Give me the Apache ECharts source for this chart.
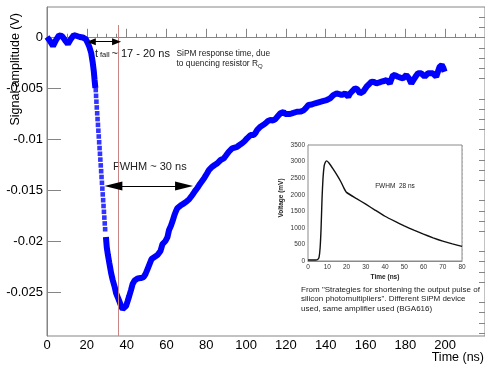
<!DOCTYPE html>
<html>
<head>
<meta charset="utf-8">
<script src="https://cdn.jsdelivr.net/npm/echarts@6/dist/echarts.min.js"></script>
<style>
  html, body { margin: 0; padding: 0; background: #fff; }
  #chart { width: 485px; height: 365px; }
</style>
</head>
<body>
<div id="chart"></div>
<script>
// scope trace of the SiPM pulse: time (ns) / amplitude (V), null = gap where the squares stand apart
const timeNs = [
  0, 1.5, 3, 4.5, 6, 7.5, 9, 10.5, 12, 13.5, 15, 16.5, 18, 19.5, 20.5, 21.3, 22.2, 23, 23.5, 23.9, 24.3,
  27,
  29.6, 30, 30.6, 31.3, 32.2, 33, 34, 34.7, 35.5, 36.3, 37.2, 38, 38.8, 39.7, 40.5, 41.3, 42.2, 43, 44,
  45.5, 47, 48.5, 49.5, 50.5, 51.5, 52.5, 54, 55.5, 57, 58, 59.5, 60.5, 61.3, 62.2, 63, 64, 64.7, 65.5,
  66.3, 67.5, 68.8, 70, 71.3, 72.2, 73, 74, 74.7, 75.5, 76.3, 77, 78, 79, 79.7, 80.5, 81.3, 82, 83, 84.2,
  85.5, 86.3, 87.2, 88, 88.8, 89.7, 90.5, 91.3, 92.2, 93, 94, 95.5, 96.7, 98, 99.3, 100.5, 101.3, 102.2,
  103, 103.8, 104.7, 105.5, 106.3, 107.2, 108.5, 109.7, 111, 112.2, 113.5, 114.7, 116, 117.2, 118, 118.8,
  119.7, 120.5, 121.7, 123, 124, 125.5, 126.3, 127.3, 128.8, 130, 130.5, 131.3, 133, 134.7, 135.5, 137.2,
  138.5, 140.5, 141.5, 142.2, 143.8, 145.5, 146.7, 148, 149.7, 150.5, 151.3, 152.2, 153, 154.7, 155.8,
  157.2, 158, 158.8, 160.5, 161.8, 163, 164.2, 165.5, 166.7, 168, 169.3, 170.5, 171.3, 172.2, 173, 173.8,
  175, 176.3, 177.5, 178.8, 179.7, 180.5, 181.7, 183, 184, 184.7, 185.5, 186.3, 188, 189, 189.7, 190.5,
  191.3, 192.5, 193.8, 194.7, 195.5, 196.3, 197.2, 198.3, 199, 199.7
]
const signalV = [
  0.00007, -0.00032, -0.00082, -0.00023, 0.00022, 0.00017, -0.00023, -0.00062, -0.00013, 0.00027, 0.00017,
  0.00007, 0.00002, -0.00013, -0.00052, -0.00091, -0.0015, -0.00249, -0.00327, -0.00416, -0.00494,
  null,
  -0.01958, -0.02056, -0.02135, -0.02213, -0.02311, -0.0238, -0.02449, -0.02508, -0.02547, -0.02587, -0.02636,
  -0.02665, -0.02665, -0.02636, -0.02587, -0.02537, -0.02478, -0.02419, -0.02385, -0.02365, -0.02361,
  -0.02351, -0.02321, -0.02272, -0.02223, -0.02174, -0.02154, -0.02135, -0.02095, -0.02027, -0.01997,
  -0.01958, -0.01889, -0.0185, -0.01806, -0.01742, -0.01707, -0.01673, -0.01658, -0.01643, -0.01627,
  -0.01609, -0.01589, -0.01575, -0.01545, -0.01516, -0.01496, -0.01476, -0.01452, -0.01432, -0.01413,
  -0.01378, -0.01354, -0.01329, -0.013, -0.01285, -0.01267, -0.0125, -0.01234, -0.01216, -0.01201,
  -0.01192, -0.01185, -0.01162, -0.01152, -0.0112, -0.01103, -0.01086, -0.01079, -0.01071, -0.01054,
  -0.01037, -0.01015, -0.00988, -0.00975, -0.00956, -0.00946, -0.00956, -0.00936, -0.00907, -0.00897,
  -0.00874, -0.00858, -0.00841, -0.00818, -0.00808, -0.00813, -0.00799, -0.00769, -0.00743, -0.00727,
  -0.0073, -0.0075, -0.0075, -0.0075, -0.00743, -0.00754, -0.00727, -0.0074, -0.00725, -0.00715, -0.00691,
  -0.00678, -0.00661, -0.00656, -0.00644, -0.00644, -0.00629, -0.00622, -0.00612, -0.00602, -0.00595,
  -0.00563, -0.00546, -0.00553, -0.00563, -0.00546, -0.00563, -0.0058, -0.00548, -0.0053, -0.00497,
  -0.00504, -0.00546, -0.00538, -0.0053, -0.00481, -0.00455, -0.00432, -0.00435, -0.00448, -0.0044,
  -0.00432, -0.00425, -0.00416, -0.0043, -0.00448, -0.00406, -0.00366, -0.00371, -0.00383, -0.00391,
  -0.00399, -0.00381, -0.00366, -0.00396, -0.00448, -0.00416, -0.00399, -0.00371, -0.0035, -0.0035,
  -0.00366, -0.00383, -0.00366, -0.0035, -0.0035, -0.0035, -0.00366, -0.00383, -0.00337, -0.00285,
  -0.00268, -0.00293, -0.00334
]

// samples on the steep leading edge (visible as single squares)
const edgeTimeNs = [
  24.5, 24.65, 24.82, 25, 25.2, 25.4, 25.6, 25.8, 26, 26.2, 26.4, 26.6, 26.8,
  27, 27.2, 27.4, 27.6, 27.8, 28, 28.2, 28.4, 28.6, 28.8, 29, 29.2
]
const edgeSignalV = [
  -0.00514, -0.00571, -0.00628, -0.00685, -0.00742, -0.00799, -0.00856, -0.00913, -0.0097, -0.01027,
  -0.01084, -0.0114, -0.01197, -0.01254, -0.01311, -0.01368, -0.01425, -0.01482, -0.01539, -0.01596,
  -0.01653, -0.0171, -0.01767, -0.01824, -0.01881
]

// inset: pulse from the paper (ns / mV)
const insetTimeNs = [0, 4, 5, 5.7, 6.3, 6.8, 7.3, 7.8, 8.4, 9, 9.7, 11, 13, 15, 17, 18.5, 20, 25, 30, 35, 40, 45, 50, 55, 60, 65, 70, 75, 80]
const insetVoltageMv = [30, 30, 45, 100, 400, 1000, 1900, 2500, 2870, 2980, 3020, 2950, 2780, 2600, 2400, 2220, 2070, 1890, 1715, 1530, 1350, 1200, 1060, 930, 810, 700, 600, 515, 440]

const yMajorTicks = [0, -0.005, -0.01, -0.015, -0.02, -0.025]
const yMinorTicks = [
  0.002, 0.001, -0.001, -0.002, -0.003, -0.004, -0.006, -0.007, -0.008, -0.009,
  -0.011, -0.012, -0.013, -0.014, -0.016, -0.017, -0.018, -0.019,
  -0.021, -0.022, -0.023, -0.024, -0.026, -0.027, -0.028, -0.029
]

const FONT = "'Liberation Sans', Arial, sans-serif"
const AXIS_GREY = '#858585'

const chart = echarts.init(document.getElementById('chart'))

const mainData = timeNs.map((t, i) => [t, signalV[i]])
const edgeData = edgeTimeNs.map((t, i) => [t, edgeSignalV[i]])
const insetData = insetTimeNs.map((t, i) => [t, insetVoltageMv[i]])

const arrowEnd = (coord, size) => ({ coord, symbol: 'triangle', symbolSize: size })

const option = {
  animation: false,
  backgroundColor: '#fff',
  textStyle: { fontFamily: FONT },
  grid: [
    { left: 47, top: 7, width: 440, height: 329, show: true, borderColor: AXIS_GREY, borderWidth: 1 },
    { left: 308, top: 145, width: 154, height: 116, show: true, borderColor: '#8a8a8a', borderWidth: 1, backgroundColor: '#fff', z: 3 }
  ],
  xAxis: [
    {
      type: 'value', gridIndex: 0, min: 0, max: 220, interval: 20,
      axisLine: { show: true, lineStyle: { color: AXIS_GREY } },
      axisTick: { show: true, inside: true, length: 9, lineStyle: { color: AXIS_GREY } },
      minorTick: { show: true, splitNumber: 4, length: 4, lineStyle: { color: AXIS_GREY } },
      axisLabel: { fontSize: 13, color: '#000', margin: 3, showMaxLabel: false },
      splitLine: { show: false }
    },
    {
      type: 'value', gridIndex: 1, min: 0, max: 80, interval: 10,
      axisLine: { show: true, lineStyle: { color: '#8a8a8a' } },
      axisTick: { show: false },
      axisLabel: { fontSize: 6.5, color: '#333', margin: 3 },
      splitLine: { show: true, lineStyle: { color: '#d0d0d0', type: [2, 2], width: 0.8 } }
    }
  ],
  yAxis: [
    {
      type: 'value', gridIndex: 0, min: -0.0293, max: 0.00302,
      axisLine: { show: true, lineStyle: { color: AXIS_GREY } },
      axisTick: { show: true, inside: true, length: 14, customValues: yMajorTicks, lineStyle: { color: AXIS_GREY } },
      axisLabel: { fontSize: 13, color: '#000', margin: 4, customValues: yMajorTicks, formatter: v => String(v) },
      splitLine: { show: false }
    },
    {
      type: 'value', gridIndex: 0, min: -0.0293, max: 0.00302,
      axisLine: { show: false },
      axisTick: { show: true, inside: true, length: 6, customValues: yMinorTicks, lineStyle: { color: AXIS_GREY } },
      axisLabel: { show: false },
      splitLine: { show: false }
    },
    {
      type: 'value', gridIndex: 1, min: 0, max: 3500, interval: 500,
      axisLine: { show: true, lineStyle: { color: '#8a8a8a' } },
      axisTick: { show: false },
      axisLabel: { fontSize: 6.5, color: '#333', margin: 3, formatter: v => String(v) },
      splitLine: { show: true, lineStyle: { color: '#d0d0d0', type: [2, 2], width: 0.8 } }
    }
  ],
  series: [
    {
      name: 'signal',
      type: 'line',
      xAxisIndex: 0, yAxisIndex: 0,
      data: mainData,
      connectNulls: false,
      symbol: 'none',
      lineStyle: { color: '#0000ff', width: 6 },
      z: 2,
      markLine: {
        silent: true,
        symbol: ['none', 'none'],
        label: { show: false },
        data: [
          [
            { coord: [36, 0.00125], lineStyle: { color: '#c98584', width: 1, type: 'solid' } },
            { coord: [36, -0.0293] }
          ],
          [
            { ...arrowEnd([22.25, -0.00039], [7, 9]), lineStyle: { color: '#000', width: 1, type: 'solid' } },
            arrowEnd([34.95, -0.00039], [7, 9])
          ],
          [
            { ...arrowEnd([33.35, -0.01457], [9, 18]), lineStyle: { color: '#000', width: 1, type: 'solid' } },
            arrowEnd([68.85, -0.01457], [9, 18])
          ]
        ]
      }
    },
    {
      name: 'edge',
      type: 'scatter',
      xAxisIndex: 0, yAxisIndex: 0,
      data: edgeData,
      symbol: 'rect',
      symbolSize: 4.6,
      itemStyle: { color: '#0000ff' },
      z: 2
    },
    {
      name: 'inset',
      type: 'line',
      xAxisIndex: 1, yAxisIndex: 2,
      data: insetData,
      symbol: 'none',
      smooth: 0.15,
      lineStyle: { color: '#111', width: 1.4 },
      z: 4
    }
  ],
  graphic: [
    { type: 'text', x: 16, y: 13, rotation: Math.PI / 2,
      style: { text: 'Signal amplitude (V)', font: '12.5px ' + FONT, fill: '#000', align: 'right', verticalAlign: 'middle' } },
    { type: 'text', x: 484, y: 358,
      style: { text: 'Time (ns)', font: '12.5px ' + FONT, fill: '#000', align: 'right', verticalAlign: 'middle' } },
    { type: 'text', x: 95, y: 54,
      style: { text: 't', font: '11px ' + FONT, fill: '#111', align: 'left', verticalAlign: 'middle' } },
    { type: 'text', x: 100, y: 55,
      style: { text: 'fall', font: '7.5px ' + FONT, fill: '#111', align: 'left', verticalAlign: 'middle' } },
    { type: 'text', x: 111.5, y: 54,
      style: { text: '~ 17 - 20 ns', font: '11px ' + FONT, fill: '#111', align: 'left', verticalAlign: 'middle' } },
    { type: 'text', x: 176.5, y: 49,
      style: {
        text: 'SiPM response time, due\n{n|to quencing resistor R}{s|Q}',
        font: '8.4px ' + FONT, fill: '#222', align: 'left', verticalAlign: 'top', lineHeight: 10,
        rich: {
          n: { fontSize: 8.4, fontFamily: FONT, fill: '#222' },
          s: { fontSize: 6, fontFamily: FONT, fill: '#222', verticalAlign: 'bottom' }
        }
      } },
    { type: 'text', x: 113, y: 167,
      style: { text: 'FWHM ~ 30 ns', font: '11px ' + FONT, fill: '#222', align: 'left', verticalAlign: 'middle' } },
    { type: 'text', x: 395, y: 186.7, z: 10,
      style: { text: 'FWHM  28 ns', font: '6.5px ' + FONT, fill: '#222', align: 'center', verticalAlign: 'middle' } },
    { type: 'text', x: 281.7, y: 198, rotation: Math.PI / 2, z: 10,
      style: { text: 'Voltage (mV)', font: 'bold 6.5px ' + FONT, fill: '#222', align: 'center', verticalAlign: 'middle' } },
    { type: 'text', x: 385, y: 277.7, z: 10,
      style: { text: 'Time (ns)', font: 'bold 6.5px ' + FONT, fill: '#222', align: 'center', verticalAlign: 'middle' } },
    { type: 'text', x: 301, y: 284.5, z: 10,
      style: {
        text: 'From "Strategies for shortening the output pulse of\nsilicon photomultipliers". Different SiPM device\nused, same amplifier used (BGA616)',
        font: '8px ' + FONT, fill: '#222', align: 'left', verticalAlign: 'top', lineHeight: 9.8
      } }
  ]
}

chart.setOption(option)
</script>
</body>
</html>
